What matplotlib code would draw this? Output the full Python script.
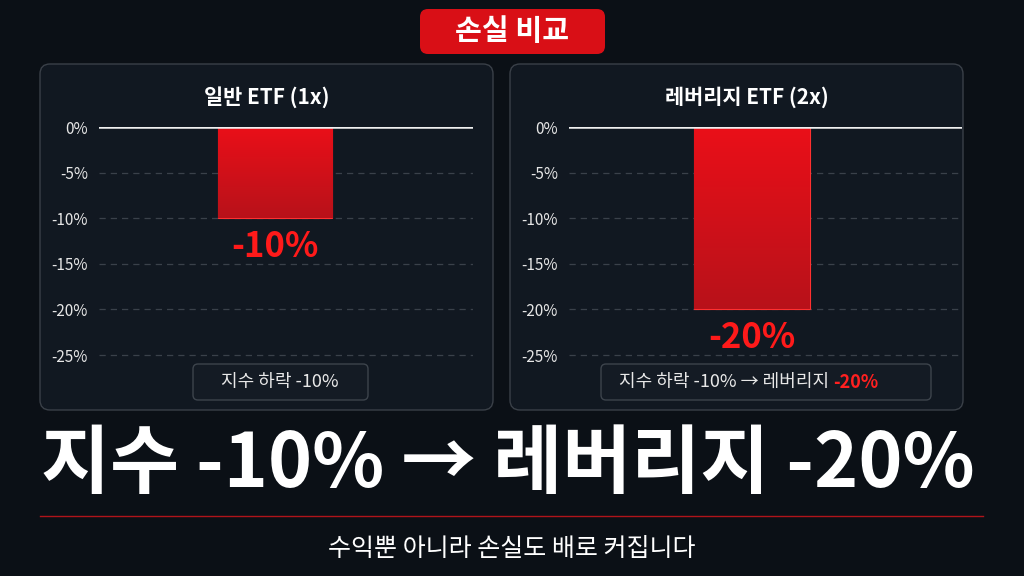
import matplotlib
matplotlib.use("Agg")
import matplotlib.pyplot as plt
from matplotlib.patches import FancyBboxPatch
from matplotlib.colors import LinearSegmentedColormap
import numpy as np

plt.rcParams['font.family'] = ['Noto Sans CJK KR', 'DejaVu Sans']

panel_titles = ["일반 ETF (1x)", "레버리지 ETF (2x)"]
values = [-10, -20]
value_labels = ["-10%", "-20%"]
yticks = [0, -5, -10, -15, -20, -25]
ytick_labels = ["0%", "-5%", "-10%", "-15%", "-20%", "-25%"]
notes = [[("지수 하락 -10%", "#e8e8e8")],
         [("지수 하락 -10% → 레버리지 ", "#e8e8e8"), ("-20%", "#ff2020")]]

W, H = 1024, 576
fig = plt.figure(figsize=(W/100, H/100), dpi=100)
fig.patch.set_facecolor("#0b1016")
bg = fig.add_axes([0, 0, 1, 1]); bg.set_xlim(0, W); bg.set_ylim(H, 0); bg.axis("off")
bg.set_zorder(-5)

def fx(x): return x / W
def fy(y): return 1 - y / H

for x0 in (40, 510):
    bg.add_patch(FancyBboxPatch((x0, 64), 453, 346, boxstyle="round,pad=0,rounding_size=10",
                                fc="#111821", ec="#3a4048", lw=1))

bg.add_patch(FancyBboxPatch((420, 9), 185, 45, boxstyle="round,pad=0,rounding_size=8",
                            fc="#d90f16", ec="none"))
bg.text(512, 31, "손실 비교", color="white", fontsize=21, fontweight="black", ha="center", va="center")

axes_x = [(99, 473), (569, 962)]
bar_cx = [0.47, 0.465]
bar_w = [0.305, 0.295]
ymin = -28
cmap = LinearSegmentedColormap.from_list("g", ["#ea0f18", "#b8121a"])
for i, (x0, x1) in enumerate(axes_x):
    top, bot = 127, 127 + 28 * 9.12
    ax = fig.add_axes([fx(x0), fy(bot), fx(x1 - x0), (bot - top) / H])
    ax.set_facecolor("none")
    for s in ax.spines.values(): s.set_visible(False)
    ax.set_xticks([])
    ax.set_yticks(yticks); ax.set_yticklabels(ytick_labels, color="#e6e6e6", fontsize=11)
    ax.tick_params(axis="y", length=0, pad=8)
    for t in yticks[1:]:
        ax.axhline(t, color="#3a414a", lw=0.9, ls=(0, (5, 4)), zorder=0)
    ax.axhline(0, color="#f0f0f0", lw=1.8, zorder=3)
    w = bar_w[i]
    v = values[i]
    bars = ax.bar([bar_cx[i]], [v], width=w, color="#d01018", edgecolor="#ff3030", lw=0.8, zorder=2)
    grad = np.linspace(0, 1, 100).reshape(-1, 1)
    im = ax.imshow(grad, cmap=cmap, aspect="auto",
                   extent=[bar_cx[i] - w/2, bar_cx[i] + w/2, v, 0], zorder=2.1, origin="upper")
    im.set_clip_path(bars[0])
    ax.text(bar_cx[i], v - 1.2, value_labels[i], color="#ff1a1a", fontsize=25, fontweight="black",
            ha="center", va="top")
    ax.set_xlim(0, 1); ax.set_ylim(ymin, 0)
    pcx = (40 + 493) / 2 if i == 0 else (510 + 983) / 2
    bg.text(pcx, 97, panel_titles[i], color="white", fontsize=15, fontweight="bold", ha="center", va="center")

bg.add_patch(FancyBboxPatch((193, 364), 175, 36, boxstyle="round,pad=0,rounding_size=5",
                            fc="#141b24", ec="#3d444c", lw=1))
bg.add_patch(FancyBboxPatch((601, 364), 330, 36, boxstyle="round,pad=0,rounding_size=5",
                            fc="#141b24", ec="#3d444c", lw=1))
bg.text(280, 382, notes[0][0][0], color=notes[0][0][1], fontsize=13, ha="center", va="center")
t1 = bg.text(619, 382, notes[1][0][0], color=notes[1][0][1], fontsize=13, ha="left", va="center")
fig.canvas.draw()
xend = t1.get_window_extent().x1
bg.text(xend, fig.bbox.height - 382, notes[1][1][0], color=notes[1][1][1], fontsize=13,
        fontweight="bold", ha="left", va="center", transform=None)

bg.text(508, 465, "지수 -10% → 레버리지 -20%", color="white", fontsize=54, fontweight="black",
        ha="center", va="center")
bg.plot([40, 983], [516, 516], color="#b0141a", lw=1)
bg.text(512, 549, "수익뿐 아니라 손실도 배로 커집니다", color="white", fontsize=18, ha="center", va="center")

fig.savefig("out.png", dpi=100, facecolor=fig.get_facecolor())
